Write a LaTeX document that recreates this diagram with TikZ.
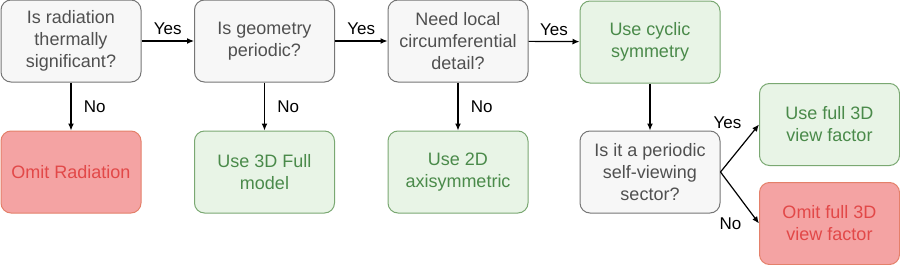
\documentclass[tikz,border=0pt]{standalone}
\usepackage{fontspec}
\setmainfont{Liberation Sans}
\usetikzlibrary{arrows.meta,positioning}
\definecolor{askFill}{RGB}{247,247,247}
\definecolor{askLine}{RGB}{118,118,118}
\definecolor{askText}{RGB}{80,80,80}
\definecolor{goodFill}{RGB}{232,244,230}
\definecolor{goodLine}{RGB}{122,168,114}
\definecolor{goodText}{RGB}{74,138,74}
\definecolor{badFill}{RGB}{244,163,163}
\definecolor{badLine}{RGB}{228,128,106}
\definecolor{badText}{RGB}{226,72,72}

\begin{document}
\begin{tikzpicture}[x=1pt,y=-1pt,
    box/.style={rounded corners=10pt,minimum width=140pt,minimum height=82pt,
      align=center,inner sep=2pt,line width=1pt,
      font=\fontsize{18}{22}\selectfont},
    ask/.style={box,fill=askFill,draw=askLine,text=askText},
    good/.style={box,fill=goodFill,draw=goodLine,text=goodText},
    bad/.style={box,fill=badFill,draw=badLine,text=badText},
    flow/.style={-{Latex[length=7pt,width=6pt]},line width=1.2pt,black},
    lbl/.style={font=\fontsize{17}{20}\selectfont,text=black}
  ]
  \useasboundingbox (0,0) rectangle (900,265);

  % questions along the top row
  \node[ask] (q1) at (71,41) {Is radiation\\thermally\\significant?};
  \node[ask] (q2) at (264.5,41) {Is geometry\\periodic?};
  \node[ask] (q3) at (458,41) {Need local\\circumferential\\detail?};
  \node[good] (cyc) at (650,42) {Use cyclic\\symmetry};

  % outcomes below
  \node[bad] (omitrad) at (71,172) {Omit Radiation};
  \node[good] (full3d) at (264.5,172) {Use 3D Full\\model};
  \node[good] (axi) at (458,172) {Use 2D\\axisymmetric};
  \node[ask] (sector) at (650,172) {Is it a periodic\\self-viewing\\sector?};

  \node[good] (fullvf) at (829.5,124.5) {Use full 3D\\view factor};
  \node[bad] (omitvf) at (829.5,223.5) {Omit full 3D\\view factor};

  \draw[flow] (q1) -- node[lbl,above=2pt] {Yes} (q2);
  \draw[flow] (q2) -- node[lbl,above=2pt] {Yes} (q3);
  \draw[flow] (q3) -- node[lbl,above=2pt] {Yes} (cyc);
  \draw[flow] (q1) -- node[lbl,right=9pt] {No} (omitrad);
  \draw[flow] (q2) -- node[lbl,right=9pt] {No} (full3d);
  \draw[flow] (q3) -- node[lbl,right=9pt] {No} (axi);
  \draw[flow] (cyc) -- (sector);
  \draw[flow] (sector.east) -- node[lbl,pos=0.8,above left=1pt and 6pt] {Yes} (fullvf.west);
  \draw[flow] (sector.east) -- node[lbl,pos=0.8,below left=1pt and 6pt] {No} (omitvf.west);
\end{tikzpicture}
\end{document}
